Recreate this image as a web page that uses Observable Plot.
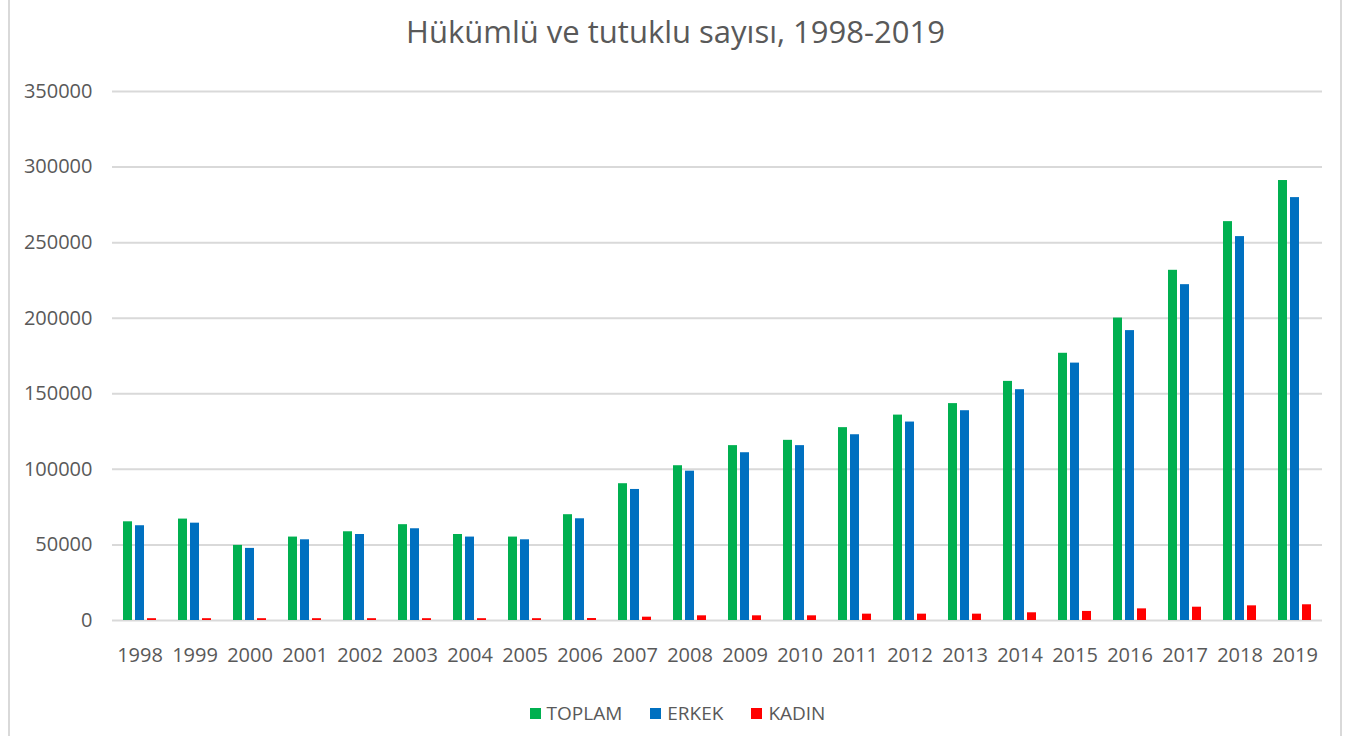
<!DOCTYPE html>
<html>
<head>
<meta charset="utf-8">
<script src="https://cdn.jsdelivr.net/npm/d3@7"></script>
<script src="https://cdn.jsdelivr.net/npm/@observablehq/plot@0.6"></script>
<style>
  html, body { margin: 0; padding: 0; background: #fff; }
  body { width: 1351px; height: 736px; position: relative; overflow: hidden; font-family: "Open Sans", sans-serif; color: #595959; }
  #frame { position: absolute; left: 8px; top: -2px; width: 1334px; height: 740px; border-left: 2px solid #d9d9d9; border-right: 2px solid #d9d9d9; box-sizing: border-box; }
  #title { position: absolute; left: 0; top: 9px; width: 1351px; text-align: center; font-size: 31px; line-height: 44px; color: #595959; }
  #chart { position: absolute; left: 0; top: 62px; }
  #legend { position: absolute; left: 0; top: 700px; width: 1351px; display: flex; justify-content: center; gap: 28px; font-size: 19px; line-height: 26px; color: #595959; padding-left: 4px; box-sizing: border-box; }
  .item { display: flex; align-items: center; gap: 6px; }
  .sw { width: 11px; height: 11px; display: inline-block; }
</style>
</head>
<body>
<div id="frame"></div>
<div id="title">Hükümlü ve tutuklu sayısı, 1998-2019</div>
<div id="chart"></div>
<div id="legend"></div>
<script>
const years = ["1998","1999","2000","2001","2002","2003","2004","2005","2006","2007","2008","2009","2010","2011","2012","2013","2014","2015","2016","2017","2018","2019"];
const series = ["TOPLAM","ERKEK","KADIN"];
const colors = ["#00b050","#0070c0","#ff0000"];
const toplam = [65300,67100,49700,55200,58700,63400,56900,55200,70000,90500,102400,115700,119200,127600,135900,143500,158200,176800,200100,231700,263900,291100];
const erkek  = [62700,64400,47700,53400,56900,60700,55200,53400,67300,86700,98800,111000,115700,122900,131300,138800,152700,170300,191800,222200,254000,279800];
const kadin  = [1200,1200,1200,1200,1200,1200,1200,1200,1300,2200,3100,3100,3100,4200,4200,4200,5100,6000,7700,8800,9700,10400];
const yTicks = [0,50000,100000,150000,200000,250000,300000,350000];

const rows = [];
years.forEach((yr, i) => {
  rows.push({year: yr, series: "TOPLAM", value: toplam[i]});
  rows.push({year: yr, series: "ERKEK", value: erkek[i]});
  rows.push({year: yr, series: "KADIN", value: kadin[i]});
});

const chart = Plot.plot({
  width: 1351,
  height: 625,
  marginLeft: 111,
  marginRight: 29,
  marginTop: 29,
  marginBottom: 67,
  style: { fontFamily: "'Open Sans', sans-serif", fontSize: "20px", color: "#595959", background: "transparent" },
  fx: { domain: years, padding: 0, label: null, axis: "bottom", tickSize: 0, tickPadding: 27 },
  x: { domain: series, paddingInner: 0.27, paddingOuter: 0.86, axis: null },
  y: { domain: [0, 350000], ticks: yTicks, tickFormat: d3.format("d"), tickSize: 0, tickPadding: 20, label: null, axis: "left" },
  color: { domain: series, range: colors },
  facet: { data: rows, x: "year" },
  marks: [
    Plot.ruleY(yTicks, { stroke: "#d9d9d9", strokeWidth: 2 }),
    Plot.barY(rows, { x: "series", y: "value", fill: "series", fx: "year" })
  ]
});
document.getElementById("chart").appendChild(chart);

const legend = document.getElementById("legend");
series.forEach((s, i) => {
  const it = document.createElement("div");
  it.className = "item";
  const sw = document.createElement("span");
  sw.className = "sw";
  sw.style.background = colors[i];
  const t = document.createElement("span");
  t.textContent = s;
  it.appendChild(sw);
  it.appendChild(t);
  legend.appendChild(it);
});
</script>
</body>
</html>
